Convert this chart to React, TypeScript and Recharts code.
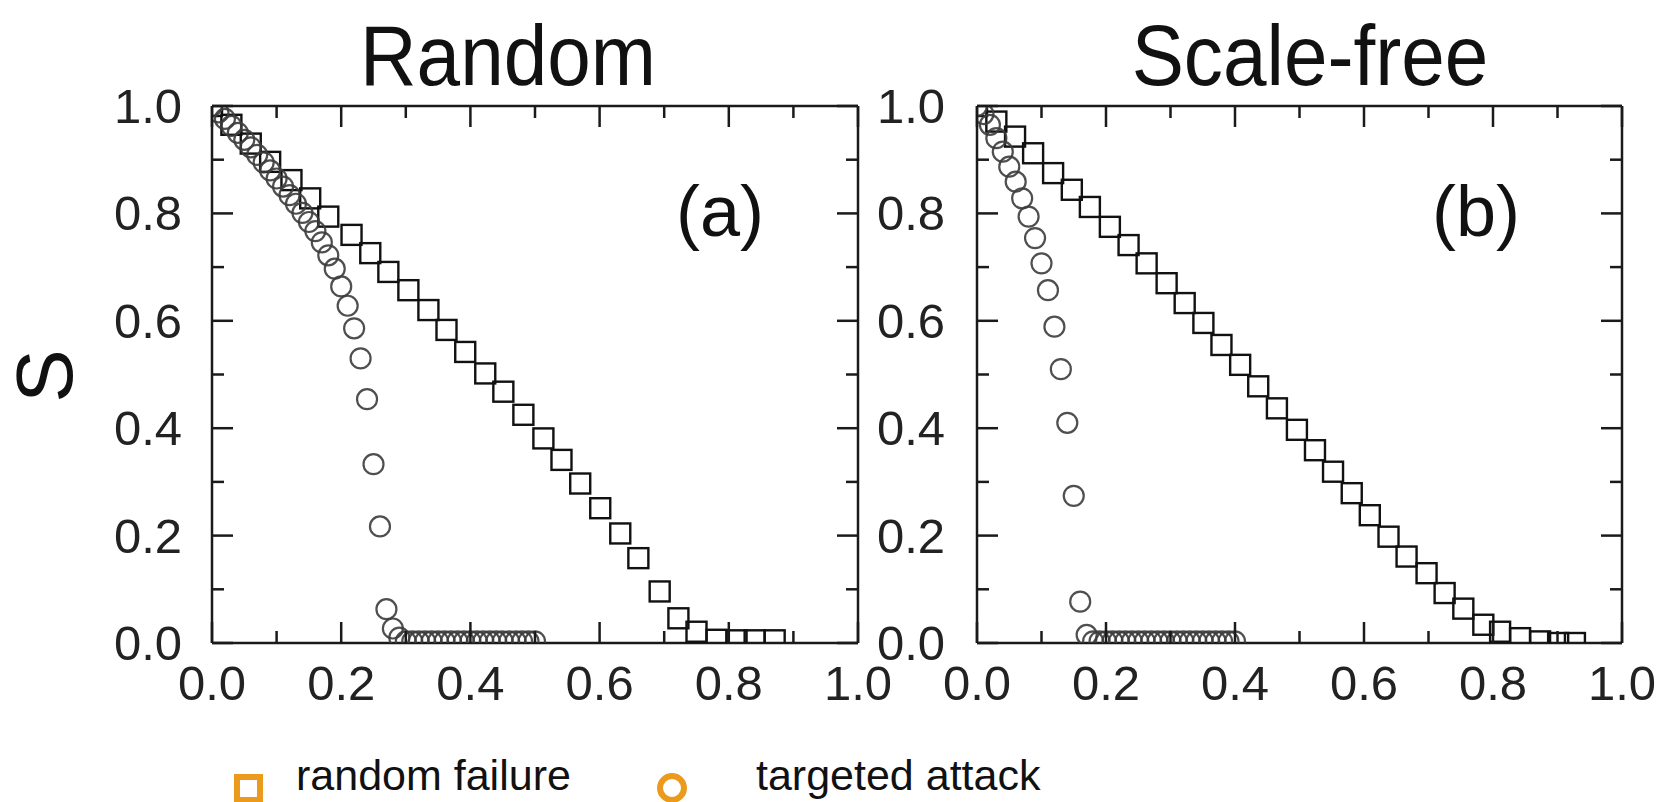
import React from "react";
import { ScatterChart, Scatter, XAxis, YAxis } from "recharts";

// (a) Random network
const randomFailureXa = [0, 0.03, 0.06, 0.09, 0.123, 0.152, 0.18, 0.216, 0.245, 0.273, 0.304, 0.335, 0.363, 0.392, 0.423, 0.451, 0.482, 0.513, 0.541, 0.57, 0.601, 0.632, 0.66, 0.693, 0.722, 0.75, 0.781, 0.812, 0.84, 0.871];
const randomFailureYa = [1.0, 0.965, 0.93, 0.896, 0.862, 0.828, 0.794, 0.76, 0.726, 0.691, 0.657, 0.62, 0.583, 0.542, 0.502, 0.468, 0.425, 0.381, 0.341, 0.297, 0.251, 0.204, 0.158, 0.096, 0.046, 0.021, 0.006, 0.005, 0.005, 0.005];

const attackXa = [0, 0.01, 0.02, 0.03, 0.04, 0.05, 0.06, 0.07, 0.08, 0.09, 0.1, 0.11, 0.12, 0.13, 0.14, 0.15, 0.16, 0.17, 0.18, 0.19, 0.2, 0.21, 0.22, 0.23, 0.24, 0.25, 0.26, 0.27, 0.28, 0.29, 0.3, 0.31, 0.32, 0.33, 0.34, 0.35, 0.36, 0.37, 0.38, 0.39, 0.4, 0.41, 0.42, 0.43, 0.44, 0.45, 0.46, 0.47, 0.48, 0.49, 0.5];
const attackYa = [1.0, 0.988, 0.976, 0.963, 0.95, 0.937, 0.923, 0.909, 0.895, 0.88, 0.865, 0.85, 0.834, 0.818, 0.801, 0.784, 0.767, 0.746, 0.722, 0.697, 0.664, 0.628, 0.586, 0.53, 0.454, 0.333, 0.217, 0.063, 0.027, 0.01, 0.003, 0.003, 0.003, 0.003, 0.003, 0.003, 0.003, 0.003, 0.003, 0.003, 0.003, 0.003, 0.003, 0.003, 0.003, 0.003, 0.003, 0.003, 0.003, 0.003, 0.003];

// (b) Scale-free network
const randomFailureXb = [0, 0.03, 0.059, 0.087, 0.118, 0.147, 0.175, 0.206, 0.235, 0.263, 0.294, 0.322, 0.351, 0.379, 0.408, 0.436, 0.465, 0.496, 0.524, 0.552, 0.581, 0.609, 0.638, 0.666, 0.697, 0.725, 0.754, 0.785, 0.811, 0.842, 0.873, 0.901, 0.927];
const randomFailureYb = [1.0, 0.971, 0.943, 0.912, 0.875, 0.844, 0.812, 0.775, 0.741, 0.707, 0.67, 0.633, 0.596, 0.555, 0.518, 0.478, 0.437, 0.397, 0.359, 0.319, 0.279, 0.238, 0.198, 0.161, 0.13, 0.093, 0.064, 0.034, 0.021, 0.009, 0.003, 0, 0];

const attackXb = [0, 0.01, 0.02, 0.03, 0.04, 0.05, 0.06, 0.07, 0.08, 0.09, 0.1, 0.11, 0.12, 0.13, 0.14, 0.15, 0.16, 0.17, 0.18, 0.19, 0.2, 0.21, 0.22, 0.23, 0.24, 0.25, 0.26, 0.27, 0.28, 0.29, 0.3, 0.31, 0.32, 0.33, 0.34, 0.35, 0.36, 0.37, 0.38, 0.39, 0.4];
const attackYb = [1.0, 0.985, 0.965, 0.94, 0.915, 0.887, 0.859, 0.828, 0.794, 0.754, 0.707, 0.657, 0.589, 0.51, 0.41, 0.274, 0.077, 0.015, 0.003, 0.003, 0.003, 0.003, 0.003, 0.003, 0.003, 0.003, 0.003, 0.003, 0.003, 0.003, 0.003, 0.003, 0.003, 0.003, 0.003, 0.003, 0.003, 0.003, 0.003, 0.003, 0.003];

const axisTicks = [0, 0.1, 0.2, 0.3, 0.4, 0.5, 0.6, 0.7, 0.8, 0.9, 1.0];
const seriesNames = ["random failure", "targeted attack"];
const panelTitles = ["Random", "Scale-free"];
const panelTags = ["(a)", "(b)"];

const zip = (xs: number[], ys: number[]) => xs.map((x, i) => ({ x, y: ys[i] }));

const FONT = "'Liberation Sans', Arial, sans-serif";
const INK = "#1a1a1a";
const ORANGE = "#ec9a1c";

const SquareShape = (props: any) => (
  <rect x={props.cx - 10} y={props.cy - 10} width={20} height={20} fill="none" stroke="#111" strokeWidth={2.4} />
);
const CircleShape = (props: any) => (
  <circle cx={props.cx} cy={props.cy} r={10} fill="none" stroke="#3c3c3c" strokeWidth={2.2} strokeOpacity={0.9} />
);

const tickLen = (index: number) => (index % 2 === 0 ? 21 : 12);

const BottomTick = (props: any) => {
  const { x, y, payload, index } = props;
  return (
    <g>
      <line x1={x} y1={y} x2={x} y2={y - tickLen(index)} stroke={INK} strokeWidth={2.5} />
      {index % 2 === 0 && (
        <text x={x} y={y + 57} textAnchor="middle" fontSize={49} fontFamily={FONT} fill="#222">
          {Number(payload.value).toFixed(1)}
        </text>
      )}
    </g>
  );
};
const TopTick = (props: any) => {
  const { x, y, index } = props;
  return <line x1={x} y1={y} x2={x} y2={y + tickLen(index)} stroke={INK} strokeWidth={2.5} />;
};
const makeLeftTick = (gap: number) => (props: any) => {
  const { x, y, payload, index } = props;
  return (
    <g>
      <line x1={x} y1={y} x2={x + tickLen(index)} y2={y} stroke={INK} strokeWidth={2.5} />
      {index % 2 === 0 && (
        <text x={x - gap} y={y + 17} textAnchor="end" fontSize={49} fontFamily={FONT} fill="#222">
          {Number(payload.value).toFixed(1)}
        </text>
      )}
    </g>
  );
};
const RightTick = (props: any) => {
  const { x, y, index } = props;
  return <line x1={x} y1={y} x2={x - tickLen(index)} y2={y} stroke={INK} strokeWidth={2.5} />;
};

type PanelProps = {
  left: number;
  width: number;
  margin: { top: number; right: number; bottom: number; left: number };
  squares: { x: number; y: number }[];
  circles: { x: number; y: number }[];
  labelGap: number;
};

const Panel = ({ left, width, margin, squares, circles, labelGap }: PanelProps) => {
  const axisLine = { stroke: INK, strokeWidth: 2.5 };
  return (
    <div style={{ position: "absolute", left, top: 0 }}>
      <ScatterChart width={width} height={760} margin={margin}>
        <XAxis xAxisId="b" dataKey="x" type="number" domain={[0, 1]} ticks={axisTicks} interval={0}
          orientation="bottom" height={80} tickLine={false} tickSize={0} tickMargin={0}
          axisLine={axisLine} tick={BottomTick} allowDataOverflow />
        <XAxis xAxisId="t" dataKey="x" type="number" domain={[0, 1]} ticks={axisTicks} interval={0}
          orientation="top" height={2} tickLine={false} tickSize={0} tickMargin={0}
          axisLine={axisLine} tick={TopTick} allowDataOverflow />
        <YAxis yAxisId="l" dataKey="y" type="number" domain={[0, 1]} ticks={axisTicks} interval={0}
          orientation="left" width={100} tickLine={false} tickSize={0} tickMargin={0}
          axisLine={axisLine} tick={makeLeftTick(labelGap)} allowDataOverflow />
        <YAxis yAxisId="r" dataKey="y" type="number" domain={[0, 1]} ticks={axisTicks} interval={0}
          orientation="right" width={2} tickLine={false} tickSize={0} tickMargin={0}
          axisLine={axisLine} tick={RightTick} allowDataOverflow />
        <Scatter name={seriesNames[0]} data={squares} xAxisId="b" yAxisId="l" shape={SquareShape} isAnimationActive={false} />
        <Scatter name={seriesNames[1]} data={circles} xAxisId="b" yAxisId="l" shape={CircleShape} isAnimationActive={false} />
        <Scatter data={[]} xAxisId="t" yAxisId="r" isAnimationActive={false} />
      </ScatterChart>
    </div>
  );
};

export default function App() {
  return (
    <div style={{ position: "absolute", left: 0, top: 0, width: 1659, height: 802, background: "#fff", overflow: "hidden" }}>
      <Panel left={0} width={900} margin={{ top: 104, right: 40, bottom: 37, left: 112 }}
        squares={zip(randomFailureXa, randomFailureYa)} circles={zip(attackXa, attackYa)} labelGap={30} />
      <Panel left={860} width={799} margin={{ top: 104, right: 35, bottom: 37, left: 17 }}
        squares={zip(randomFailureXb, randomFailureYb)} circles={zip(attackXb, attackYb)} labelGap={32} />
      <svg width={1659} height={802} style={{ position: "absolute", left: 0, top: 0, pointerEvents: "none" }}>
        <g fontFamily={FONT} fill="#111">
          <text x={0} y={0} fontSize={86} textAnchor="middle" transform="translate(508 85) scale(0.91 1)">{panelTitles[0]}</text>
          <text x={0} y={0} fontSize={86} textAnchor="middle" transform="translate(1310 85) scale(0.91 1)">{panelTitles[1]}</text>
          <text x={720} y={236} fontSize={72} textAnchor="middle">{panelTags[0]}</text>
          <text x={1476} y={236} fontSize={72} textAnchor="middle">{panelTags[1]}</text>
          <text x={0} y={0} fontSize={80} textAnchor="middle" transform="translate(72 376) rotate(-90)">S</text>
        </g>
        <g fontFamily={FONT}>
          <rect x={237} y={777} width={23} height={23} fill="none" stroke={ORANGE} strokeWidth={6} />
          <text x={296} y={790} fontSize={43} fill="#111">{seriesNames[0]}</text>
          <circle cx={672} cy={788} r={12} fill="none" stroke={ORANGE} strokeWidth={6} />
          <text x={756} y={790} fontSize={43} fill="#111">{seriesNames[1]}</text>
        </g>
      </svg>
    </div>
  );
}
